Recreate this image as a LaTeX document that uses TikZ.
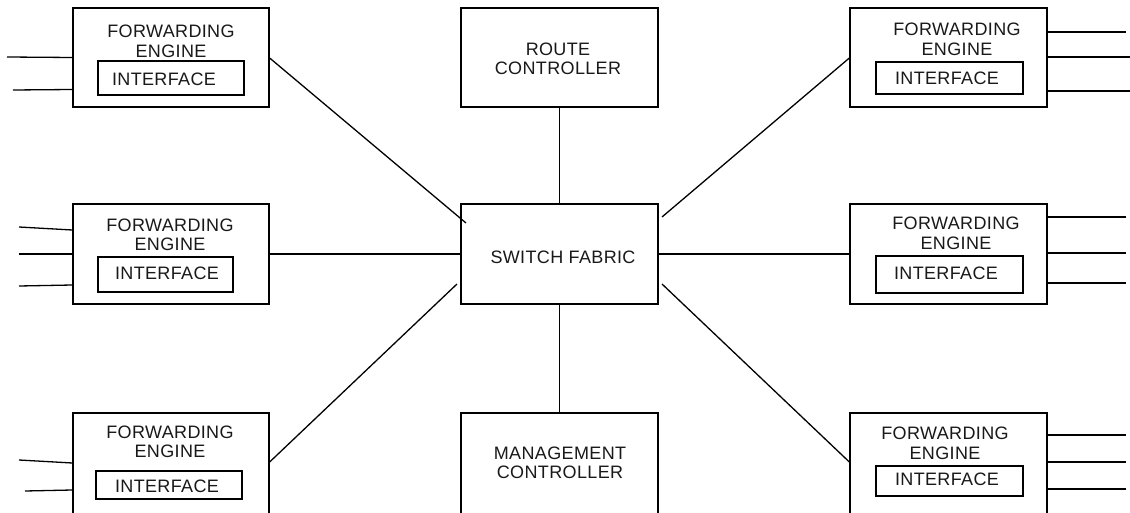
\documentclass[tikz,border=0pt]{standalone}
\usepackage{fontspec}
\setmainfont{Liberation Sans}[LetterSpace=2]
\usetikzlibrary{calc}

% rectangle node spanned by two corners (x0,y0) and (x1,y1)
\newcommand\rbox[5]{%
  \node[box, minimum width={#4pt-#2pt}, minimum height={#5pt-#3pt}]
    (#1) at ({(#2+#4)/2},{(#3+#5)/2}) {};}

\begin{document}
\begin{tikzpicture}[x=1pt,y=-1pt,
  box/.style={draw, line width=1.3pt, inner sep=0pt},
  lbl/.style={font=\fontsize{18}{19.5}\selectfont, align=center, inner sep=0pt, text=black!90},
  wire/.style={line width=1.3pt}]
\clip (0,0) rectangle (1130,513);
\fill[white] (0,0) rectangle (1130,513);

% central blocks
\rbox{rc}{461}{8}{658}{107}
\node[lbl] (rct) at (558,59) {ROUTE\\CONTROLLER};
\rbox{sf}{461}{204}{658}{304}
\node[lbl] (sft) at (563,257) {SWITCH FABRIC};
\rbox{mc}{461}{413}{658}{515}
\node[lbl] (mct) at (560,463) {MANAGEMENT\\CONTROLLER};

% forwarding engines, left column
\rbox{fe1}{73}{8}{269}{107}
\node[lbl] (fe1t) at (171,41.5) {FORWARDING\\ENGINE};
\rbox{if1}{98}{61}{244}{95}
\node[lbl] (if1t) at (164,79) {INTERFACE};

\rbox{fe2}{73}{204}{269}{304}
\node[lbl] (fe2t) at (170,235) {FORWARDING\\ENGINE};
\rbox{if2}{98}{257}{233}{292}
\node[lbl] (if2t) at (167,273) {INTERFACE};

\rbox{fe3}{73}{413}{269}{515}
\node[lbl] (fe3t) at (170,442) {FORWARDING\\ENGINE};
\rbox{if3}{96}{471}{242}{499}
\node[lbl] (if3t) at (167,486) {INTERFACE};

% forwarding engines, right column
\rbox{fe4}{850}{8}{1047}{107}
\node[lbl] (fe4t) at (957,39.5) {FORWARDING\\ENGINE};
\rbox{if4}{876}{62}{1023}{94}
\node[lbl] (if4t) at (947,78) {INTERFACE};

\rbox{fe5}{850}{204}{1047}{304}
\node[lbl] (fe5t) at (956,233.5) {FORWARDING\\ENGINE};
\rbox{if5}{876}{256}{1023}{293}
\node[lbl] (if5t) at (946,273) {INTERFACE};

\rbox{fe6}{850}{413}{1047}{515}
\node[lbl] (fe6t) at (945,443.5) {FORWARDING\\ENGINE};
\rbox{if6}{876}{466}{1023}{496}
\node[lbl] (if6t) at (947,479) {INTERFACE};

% links into the switch fabric
\coordinate (sfa) at (466,223);
\coordinate (sfb) at (457,284);
\coordinate (sfc) at (662,217);
\coordinate (sfd) at (662,284);
\draw[wire] (rc.south) -- (sf.north);
\draw[wire] (sf.south) -- (mc.north);
\draw[wire] (fe1.east |- 0,58) -- (sfa);
\draw[wire] (fe2.east) -- (sf.west);
\draw[wire] (fe3.east |- 0,462) -- (sfb);
\draw[wire] (fe4.west |- 0,58) -- (sfc);
\draw[wire] (fe5.west) -- (sf.east);
\draw[wire] (fe6.west |- 0,462) -- (sfd);

% external ports, left side
\draw[wire] (7,57) -- (fe1.west |- 0,57.5);
\draw[wire] (13,90) -- (fe1.west |- 0,89.5);
\draw[wire] (19,227) -- (fe2.west |- 0,230);
\draw[wire] (19,254) -- (fe2.west |- 0,254);
\draw[wire] (19,286) -- (fe2.west |- 0,285);
\draw[wire] (19,460) -- (fe3.west |- 0,463);
\draw[wire] (25,491) -- (fe3.west |- 0,490);

% external ports, right side
\draw[wire] (fe4.east |- 0,32) -- (1126,32);
\draw[wire] (fe4.east |- 0,57) -- (1130,57);
\draw[wire] (fe4.east |- 0,91) -- (1130,91);
\draw[wire] (fe5.east |- 0,217) -- (1126,217);
\draw[wire] (fe5.east |- 0,253) -- (1126,253);
\draw[wire] (fe5.east |- 0,283) -- (1126,283);
\draw[wire] (fe6.east |- 0,435) -- (1126,435);
\draw[wire] (fe6.east |- 0,462) -- (1126,462);
\draw[wire] (fe6.east |- 0,489) -- (1126,489);
\end{tikzpicture}
\end{document}
